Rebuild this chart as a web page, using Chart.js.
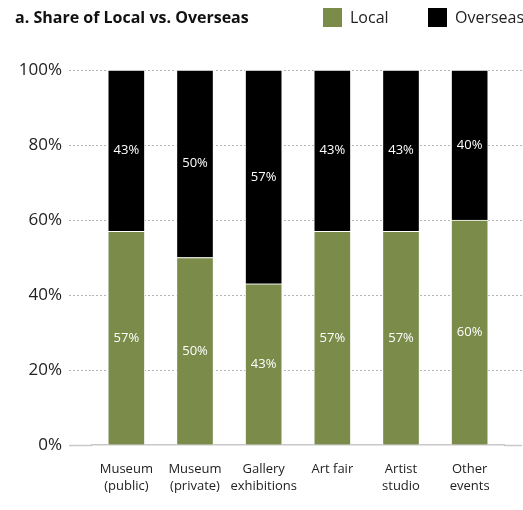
<!DOCTYPE html>
<html>
<head>
<meta charset="utf-8">
<script src="https://cdn.jsdelivr.net/npm/chart.js@4.4.1/dist/chart.umd.min.js"></script>
<style>
    html, body { margin: 0; padding: 0; background: #fff; overflow: hidden; }
    #wrap { position: relative; width: 523px; height: 510px; }
    #title { position: absolute; left: 15px; top: 6px; line-height: 22px; font: bold 16px "Open Sans", sans-serif; color: #111; white-space: nowrap; }
    #legend { position: absolute; left: 323px; top: 6px; display: flex; white-space: nowrap; font: 16px "Open Sans", sans-serif; color: #222; }
    #legend .item { display: flex; align-items: center; width: 105px; height: 22px; }
    #legend .box { width: 19px; height: 19px; margin-right: 8px; }
</style>
</head>
<body>
<div id="wrap">
    <canvas id="chart" width="523" height="510"></canvas>
    <div id="title">a. Share of Local vs. Overseas</div>
    <div id="legend"></div>
</div>
<script>
const categories = [
    ["Museum", "(public)"],
    ["Museum", "(private)"],
    ["Gallery", "exhibitions"],
    ["Art fair"],
    ["Artist", "studio"],
    ["Other", "events"]
];
const localShare = [57, 50, 43, 57, 57, 60];
const overseasShare = [43, 50, 57, 43, 43, 40];
const yTicks = [0, 20, 40, 60, 80, 100];

const GREEN = "#7b8b4a";
const FONT = "'Open Sans', sans-serif";

// grid style: dotted, the 0% line solid like the axis
const isZero = ctx => ctx.tick && ctx.tick.value === 0;
const tickCol = ctx => isZero(ctx) ? "#c8c8c8" : "#b3b3b3";
const tickDash = ctx => isZero(ctx) ? [] : [2, 2];
const tickW = ctx => isZero(ctx) ? 1.5 : 1;

// white % labels in the middle of every segment
const segLabels = {
    id: "segLabels",
    afterDatasetsDraw(chart) {
        const ctx = chart.ctx;
        ctx.save();
        ctx.fillStyle = "#fff";
        ctx.font = "13px " + FONT;
        ctx.textAlign = "center";
        ctx.textBaseline = "middle";
        chart.data.datasets.forEach((ds, di) => {
            chart.getDatasetMeta(di).data.forEach((bar, i) => {
                const p = bar.getProps(["x", "y", "base"], true);
                ctx.fillText(ds.data[i] + "%", p.x, (p.y + p.base) / 2);
            });
        });
        ctx.restore();
    }
};

const chart = new Chart(document.getElementById("chart"), {
    type: "bar",
    data: {
        labels: categories,
        datasets: [
            { label: "Local", data: localShare, backgroundColor: GREEN },
            { label: "Overseas", data: overseasShare, backgroundColor: "#000" }
        ]
    },
    options: {
        responsive: false,
        animation: false,
        layout: { padding: { top: 70, left: 0, right: 0, bottom: 0 } },
        datasets: { bar: { barThickness: 37, borderWidth: 1, borderColor: "#fff" } },
        plugins: { legend: { display: false }, tooltip: { enabled: false } },
        scales: {
            x: {
                stacked: true,
                grid: { display: false, drawTicks: false },
                border: { display: true, color: "#c8c8c8", width: 1.5 },
                ticks: { color: "#222", font: { family: FONT, size: 13, lineHeight: 1.3 }, padding: 16, maxRotation: 0, autoSkip: false },
                afterFit: s => { s.height = 65; }
            },
            y: {
                stacked: true,
                min: 0, max: 100,
                afterBuildTicks: s => { s.ticks = yTicks.map(v => ({ value: v })); },
                grid: {
                    color: ctx => isZero(ctx) ? "rgba(0,0,0,0)" : "#b3b3b3",
                    drawTicks: true, tickLength: 23,
                    tickColor: tickCol, tickBorderDash: tickDash, tickWidth: tickW
                },
                border: { display: false, dash: [2, 2] },
                ticks: { color: "#222", padding: 7, font: { family: FONT, size: 17 }, callback: v => v + "%" },
                afterFit: s => { s.width = 92; }
            },
            y2: {
                position: "right",
                min: 0, max: 100,
                afterBuildTicks: s => { s.ticks = yTicks.map(v => ({ value: v })); },
                grid: {
                    drawOnChartArea: false, drawTicks: true, tickLength: 18,
                    tickColor: tickCol, tickBorderDash: tickDash, tickWidth: tickW
                },
                border: { display: false },
                ticks: { display: false },
                afterFit: s => { s.width = 19; }
            }
        }
    },
    plugins: [segLabels]
});

// legend built from the datasets
const legend = document.getElementById("legend");
chart.data.datasets.forEach(ds => {
    const item = document.createElement("div");
    item.className = "item";
    item.innerHTML = `<span class="box" style="background:${ds.backgroundColor}"></span><span>${ds.label}</span>`;
    legend.appendChild(item);
});
</script>
</body>
</html>
